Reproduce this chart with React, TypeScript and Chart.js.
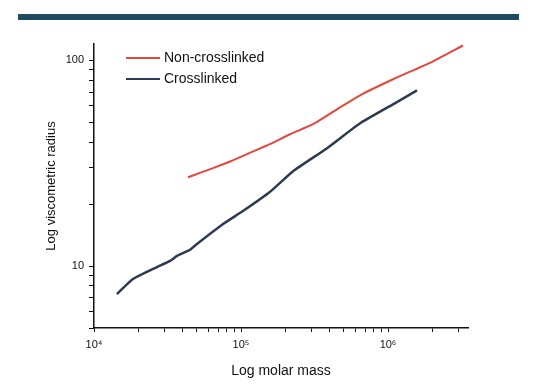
import React, { useEffect, useRef } from 'react';
import { Chart, registerables } from 'chart.js';

Chart.register(...registerables);

const seriesNames = ['Non-crosslinked', 'Crosslinked'];
const nonCrossMass = [43600, 52000, 64500, 85000, 110000, 157000, 215000, 309000, 450000, 646000, 1082000, 2024000, 3236000];
const nonCrossRadius = [27.0, 28.3, 29.9, 32.3, 35.0, 39.1, 43.7, 48.9, 57.8, 67.6, 80.9, 98.9, 118];
const crossMass = [14330, 18400, 26800, 32900, 36700, 45000, 50200, 75500, 103000, 157000, 226000, 385000, 646000, 1082000, 1574000];
const crossRadius = [7.31, 8.65, 9.89, 10.6, 11.2, 12.0, 12.8, 16.0, 18.5, 22.9, 28.9, 37.4, 49.4, 61.1, 71.4];
const xTicks = [1e4, 2e4, 3e4, 4e4, 5e4, 6e4, 7e4, 8e4, 9e4, 1e5, 2e5, 3e5, 4e5, 5e5, 6e5, 7e5, 8e5, 9e5, 1e6, 2e6, 3e6];
const yTicks = [5, 6, 7, 8, 9, 10, 20, 30, 40, 50, 60, 70, 80, 90, 100];
const xTitle = 'Log molar mass';
const yTitle = 'Log viscometric radius';

const RED = '#e4473b';
const BLUE = '#2c3b52';
const FONT = "'Liberation Sans Narrow', 'Arial Narrow', 'Liberation Sans', sans-serif";
const SUP: Record<string, string> = { '0': '⁰', '1': '¹', '2': '²', '3': '³', '4': '⁴', '5': '⁵', '6': '⁶', '7': '⁷', '8': '⁸', '9': '⁹' };

const legendPlugin = {
  id: 'innerLegend',
  afterDraw(chart: any) {
    const ctx = chart.ctx;
    ctx.save();
    chart.data.datasets.forEach((ds: any, i: number) => {
      const y = 58 + i * 21;
      ctx.strokeStyle = ds.borderColor;
      ctx.lineWidth = 2;
      ctx.beginPath();
      ctx.moveTo(126, y);
      ctx.lineTo(160, y);
      ctx.stroke();
      ctx.fillStyle = '#111';
      ctx.font = `14px ${FONT}`;
      ctx.textBaseline = 'middle';
      ctx.textAlign = 'left';
      ctx.fillText(ds.label, 164, y);
    });
    ctx.restore();
  },
};

export default function App() {
  const ref = useRef<HTMLCanvasElement>(null);
  useEffect(() => {
    if (!ref.current) return;
    const chart = new Chart(ref.current, {
      type: 'line',
      data: {
        datasets: [
          {
            label: seriesNames[0],
            data: nonCrossMass.map((x, i) => ({ x, y: nonCrossRadius[i] })),
            borderColor: RED,
            borderWidth: 2,
            pointRadius: 0,
            tension: 0.2,
          },
          {
            label: seriesNames[1],
            data: crossMass.map((x, i) => ({ x, y: crossRadius[i] })),
            borderColor: BLUE,
            borderWidth: 2.5,
            pointRadius: 0,
            tension: 0.15,
          },
        ],
      },
      options: {
        animation: false,
        responsive: false,
        layout: { padding: { left: 38, top: 44, right: 65, bottom: 0 } },
        plugins: { legend: { display: false }, tooltip: { enabled: false } },
        scales: {
          x: {
            type: 'logarithmic',
            min: 1e4,
            max: 3.5e6,
            afterBuildTicks: (axis: any) => {
              axis.ticks = xTicks.map((v) => ({ value: v }));
            },
            afterFit: (axis: any) => {
              axis.height = 62;
            },
            grid: { drawOnChartArea: false, drawTicks: true, tickLength: 4, tickColor: '#111', tickWidth: 1 },
            border: { color: '#111', width: 1.5 },
            ticks: {
              autoSkip: false,
              maxRotation: 0,
              padding: 6,
              color: '#111',
              font: { family: FONT, size: 11 },
              callback: (v: any) => {
                const e = Math.log10(Number(v));
                if (Math.abs(e - Math.round(e)) < 1e-9) {
                  return '10' + String(Math.round(e)).split('').map((c) => SUP[c]).join('');
                }
                return '';
              },
            },
            title: {
              display: true,
              text: xTitle,
              color: '#111',
              font: { family: FONT, size: 14 },
              padding: { top: 0, bottom: 10 },
            },
          },
          y: {
            type: 'logarithmic',
            min: 5,
            max: 120,
            afterBuildTicks: (axis: any) => {
              axis.ticks = yTicks.map((v) => ({ value: v }));
            },
            afterFit: (axis: any) => {
              axis.width = 56;
            },
            grid: { drawOnChartArea: false, drawTicks: true, tickLength: 5, tickColor: '#111', tickWidth: 1 },
            border: { color: '#111', width: 1.5 },
            ticks: {
              autoSkip: false,
              padding: 5,
              color: '#111',
              font: { family: FONT, size: 11 },
              callback: (v: any) => (Number(v) === 10 || Number(v) === 100 ? String(v) : ''),
            },
            title: {
              display: true,
              text: yTitle,
              color: '#111',
              font: { family: FONT, size: 13 },
              padding: { top: 6, bottom: 0 },
            },
          },
        },
      },
      plugins: [legendPlugin],
    } as any);
    return () => chart.destroy();
  }, []);

  return (
    <div style={{ position: 'fixed', left: 0, top: 0, width: 533, height: 390, background: '#fff' }}>
      <div style={{ position: 'absolute', left: 18, top: 14, width: 501, height: 6, background: '#1f4a5f' }} />
      <canvas ref={ref} width={533} height={390} style={{ position: 'absolute', left: 0, top: 0 }} />
    </div>
  );
}
